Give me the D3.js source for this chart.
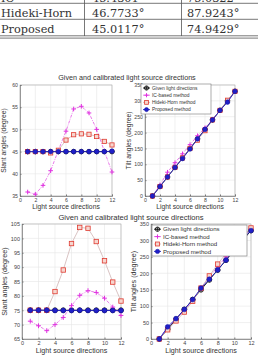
<!DOCTYPE html>
<html>
<head>
<meta charset="utf-8">
<script src="https://cdn.jsdelivr.net/npm/d3@7/dist/d3.min.js"></script>
<style>
body { margin: 0; background: #fff; }
svg { display: block; }
</style>
</head>
<body>
<svg id="chart" width="258" height="359"></svg>
<script>
// light source directions (x axis)
var directions = [1, 2, 3, 4, 5, 6, 7, 8, 9, 10, 11, 12];
var xTicks = [0, 2, 4, 6, 8, 10, 12];

// table rows
var tableMethods = ["IC", "Hideki-Horn", "Proposed"];
var tableSlant45 = ["45.4301\u00b0", "46.7733\u00b0", "45.0117\u00b0"];
var tableSlant75 = ["75.0322\u00b0", "87.9243\u00b0", "74.9429\u00b0"];

// experiment 1 : slant 45
var slant1Given    = [45, 45, 45, 45, 45, 45, 45, 45, 45, 45, 45, 45];
var slant1IC       = [35.9, 35.4, 37.4, 40.7, 45.3, 49.6, 54.6, 55.2, 53.7, 50.0, 45.1, 40.4];
var slant1Hideki   = [45.0, 45.0, 45.0, 44.7, 45.3, 47.6, 48.8, 49.0, 48.9, 48.4, 47.3, 46.5];
var slant1Proposed = [45.0, 45.0, 45.0, 45.0, 45.0, 45.0, 45.0, 45.0, 45.0, 45.0, 45.0, 45.1];
var tilt1Given     = [0, 30, 60, 90, 120, 150, 180, 210, 240, 270, 300, 330];
var tilt1IC        = [0, 35, 75, 105, 133, 162, 190, 215, 242, 270, 298, 330];
var tilt1Hideki    = [0, 30, 60, 90, 120, 150, 176, 206, 240, 270, 302, 330];
var tilt1Proposed  = [0, 30, 60, 90, 118, 148, 180, 210, 240, 270, 296, 330];

// experiment 2 : slant 75
var slant2Given    = [75, 75, 75, 75, 75, 75, 75, 75, 75, 75, 75, 75];
var slant2IC       = [71.2, 69.6, 67.9, 70.0, 72.5, 76.6, 80.2, 81.8, 81.2, 79.2, 76.1, 73.2];
var slant2Hideki   = [75.0, 75.0, 75.0, 81.5, 89.0, 98.2, 103.8, 103.5, 98.9, 92.2, 84.8, 78.2];
var slant2Proposed = [75.0, 75.0, 75.0, 74.9, 74.9, 74.9, 75.0, 74.9, 74.9, 74.9, 74.9, 74.9];
var tilt2Given     = [0, 30, 60, 90, 120, 150, 180, 210, 240, 270, 300, 330];
var tilt2IC        = [0, 35, 60, 88, 118, 155, 188, 220, 250, 283, 310, 335];
var tilt2Hideki    = [0, 28, 55, 82, 115, 155, 192, 228, 260, 290, 312, 338];
var tilt2Proposed  = [0, 37, 62, 90, 120, 155, 182, 210, 240, 275, 305, 330];

var slant1Ticks = [35, 40, 45, 50, 55, 60];
var slant2Ticks = [65, 70, 75, 80, 85, 90, 95, 100, 105];
var tiltTicks = [0, 50, 100, 150, 200, 250, 300, 350];

var legendLabels = ["Given light directions", "IC-based method", "Hideki-Horn method", "Proposed method"];

var svg = d3.select("#chart");
var sans = "Liberation Sans, Arial, sans-serif";

// ---- table at the top ----
var table = svg.append("g");
var colX = [1, 92, 187];
var rowBase = [1.5, 17, 33];
[3, 19, 35.5, 37.8].forEach(function(ly) {
    table.append("line").attr("x1", 0).attr("x2", 258).attr("y1", ly + 0.3).attr("y2", ly + 0.3)
        .attr("stroke", "#555").attr("stroke-width", 0.8);
});
[84.5, 181.5].forEach(function(cx) {
    table.append("line").attr("x1", cx).attr("x2", cx).attr("y1", 0).attr("y2", 36)
        .attr("stroke", "#555").attr("stroke-width", 0.8);
});
tableMethods.forEach(function(m, i) {
    [m, tableSlant45[i], tableSlant75[i]].forEach(function(t, j) {
        table.append("text").attr("x", colX[j]).attr("y", rowBase[i])
            .attr("font-family", "DejaVu Serif, serif").attr("font-size", 11.3)
            .attr("fill", "#333").text(t);
    });
});

// ---- markers ----
function drawMarker(g, kind, cx, cy, s) {
    if (kind == "given") {
        g.append("circle").attr("cx", cx).attr("cy", cy).attr("r", 2.3 * s)
            .attr("fill", "none").attr("stroke", "#111").attr("stroke-width", 0.9);
        g.append("path").attr("d", "M" + (cx - 2.3 * s) + "," + cy + "h" + 4.6 * s + "M" + cx + "," + (cy - 2.3 * s) + "v" + 4.6 * s)
            .attr("stroke", "#111").attr("stroke-width", 0.7);
    } else if (kind == "ic") {
        g.append("path").attr("d", "M" + (cx - 2.3 * s) + "," + cy + "h" + 4.6 * s + "M" + cx + "," + (cy - 2.3 * s) + "v" + 4.6 * s)
            .attr("stroke", "#e030e0").attr("stroke-width", 1);
    } else if (kind == "hideki") {
        g.append("rect").attr("x", cx - 2.1 * s).attr("y", cy - 2.1 * s).attr("width", 4.2 * s).attr("height", 4.2 * s)
            .attr("fill", "#f6d6cf").attr("stroke", "#e03a30").attr("stroke-width", 0.8);
    } else {
        g.append("circle").attr("cx", cx).attr("cy", cy).attr("r", 2.3 * s)
            .attr("fill", "#2020c8").attr("stroke", "#1010a0").attr("stroke-width", 0.5);
    }
}

var lineStyle = {
    given:    {color: "#111", width: 0.9, dash: null},
    ic:       {color: "#e040e0", width: 0.7, dash: "3,1.2,0.8,1.2"},
    hideki:   {color: "#c9a9a9", width: 0.7, dash: null},
    proposed: {color: "#2020c0", width: 0.9, dash: null}
};

function drawPanel(p) {
    var g = svg.append("g");
    var x = d3.scaleLinear().domain([0, 12]).range([p.left, p.right]);
    var y = d3.scaleLinear().domain(p.yDomain).range([p.bottom, p.top]);
    var fs = p.fontSize;

    // grid
    g.selectAll(".gx").data(xTicks).enter().append("line")
        .attr("x1", function(d) { return x(d); }).attr("x2", function(d) { return x(d); })
        .attr("y1", p.top).attr("y2", p.bottom)
        .attr("stroke", "#e6e6e6").attr("stroke-width", 0.6);
    g.selectAll(".gy").data(p.yTicks).enter().append("line")
        .attr("x1", p.left).attr("x2", p.right)
        .attr("y1", function(d) { return y(d); }).attr("y2", function(d) { return y(d); })
        .attr("stroke", "#e6e6e6").attr("stroke-width", 0.6);

    // box
    g.append("rect").attr("x", p.left).attr("y", p.top)
        .attr("width", p.right - p.left).attr("height", p.bottom - p.top)
        .attr("fill", "none").attr("stroke", "#aaa").attr("stroke-width", 0.6);

    var ax = g.append("g").attr("transform", "translate(0," + p.bottom + ")")
        .call(d3.axisBottom(x).tickValues(xTicks).tickSize(-1.5).tickPadding(2).tickFormat(d3.format("d")));
    var ay = g.append("g").attr("transform", "translate(" + p.left + ",0)")
        .call(d3.axisLeft(y).tickValues(p.yTicks).tickSize(-1.5).tickPadding(2).tickFormat(d3.format("d")));
    [ax, ay].forEach(function(a) {
        a.select(".domain").attr("stroke", "#777").attr("stroke-width", 0.7);
        a.selectAll(".tick line").attr("stroke", "#777");
        a.selectAll("text").attr("font-family", sans).attr("font-size", fs).attr("fill", "#444");
    });

    // axis titles
    g.append("text").attr("x", (p.left + p.right) / 2).attr("y", p.bottom + 2.3 * fs + 1)
        .attr("text-anchor", "middle").attr("font-family", sans).attr("font-size", fs * 1.3)
        .attr("fill", "#333").text("Light source directions");
    g.append("text").attr("transform", "translate(" + (p.left - 2.3 * fs - 2) + "," + (p.top + p.bottom) / 2 + ") rotate(-90)")
        .attr("text-anchor", "middle").attr("font-family", sans).attr("font-size", fs * 1.3)
        .attr("fill", "#333").text(p.ylabel);

    // series
    p.series.forEach(function(s) {
        var st = lineStyle[s.kind];
        var line = d3.line().x(function(d, i) { return x(directions[i]); }).y(function(d) { return y(d); });
        g.append("path").datum(s.values).attr("d", line)
            .attr("fill", "none").attr("stroke", st.color).attr("stroke-width", st.width)
            .attr("stroke-dasharray", st.dash);
        s.values.forEach(function(v, i) {
            drawMarker(g, s.kind, x(directions[i]), y(v), p.markerScale);
        });
    });

    // legend
    if (p.legend) {
        var L = p.legend;
        var lg = g.append("g");
        lg.append("rect").attr("x", L.x).attr("y", L.y).attr("width", L.w).attr("height", L.h)
            .attr("fill", "#fff").attr("stroke", "#777").attr("stroke-width", 0.6);
        ["given", "ic", "hideki", "proposed"].forEach(function(k, i) {
            var ly = L.y + L.pad + i * L.step;
            var st = lineStyle[k];
            lg.append("line").attr("x1", L.x + 2).attr("x2", L.x + 9).attr("y1", ly).attr("y2", ly)
                .attr("stroke", st.color).attr("stroke-width", st.width);
            drawMarker(lg, k, L.x + 5.5, ly, p.markerScale * 0.9);
            lg.append("text").attr("x", L.x + 11).attr("y", ly + L.fs * 0.35)
                .attr("font-family", sans).attr("font-size", L.fs).attr("fill", "#333")
                .text(legendLabels[i]);
        });
    }
}

// titles
svg.append("text").attr("x", 127).attr("y", 80).attr("text-anchor", "middle")
    .attr("font-family", sans).attr("font-size", 7.2).attr("fill", "#333")
    .text("Given and calibrated light source directions");
svg.append("text").attr("x", 131).attr("y", 220).attr("text-anchor", "middle")
    .attr("font-family", sans).attr("font-size", 7.6).attr("fill", "#333")
    .text("Given and calibrated light source directions");

drawPanel({
    left: 20, right: 112, top: 85, bottom: 196, yDomain: [35, 60], yTicks: slant1Ticks,
    fontSize: 5.2, markerScale: 1, ylabel: "Slant angles (degree)",
    series: [
        {kind: "given", values: slant1Given},
        {kind: "ic", values: slant1IC},
        {kind: "hideki", values: slant1Hideki},
        {kind: "proposed", values: slant1Proposed}
    ]
});
drawPanel({
    left: 145, right: 235, top: 85, bottom: 196, yDomain: [0, 350], yTicks: tiltTicks,
    fontSize: 5.2, markerScale: 1, ylabel: "Tilt angles (degree)",
    series: [
        {kind: "given", values: tilt1Given},
        {kind: "ic", values: tilt1IC},
        {kind: "hideki", values: tilt1Hideki},
        {kind: "proposed", values: tilt1Proposed}
    ],
    legend: {x: 141, y: 84, w: 70, h: 30, pad: 4, step: 7.2, fs: 4.9}
});
drawPanel({
    left: 22, right: 121, top: 224, bottom: 339, yDomain: [65, 105], yTicks: slant2Ticks,
    fontSize: 5.5, markerScale: 1.05, ylabel: "Slant angles (degree)",
    series: [
        {kind: "given", values: slant2Given},
        {kind: "ic", values: slant2IC},
        {kind: "hideki", values: slant2Hideki},
        {kind: "proposed", values: slant2Proposed}
    ]
});
drawPanel({
    left: 151, right: 251, top: 224, bottom: 339, yDomain: [0, 350], yTicks: tiltTicks,
    fontSize: 5.5, markerScale: 1.05, ylabel: "Tilt angles (degree)",
    series: [
        {kind: "given", values: tilt2Given},
        {kind: "ic", values: tilt2IC},
        {kind: "hideki", values: tilt2Hideki},
        {kind: "proposed", values: tilt2Proposed}
    ],
    legend: {x: 152, y: 225, w: 95, h: 31, pad: 4.2, step: 7.4, fs: 6.1}
});
</script>
</body>
</html>
